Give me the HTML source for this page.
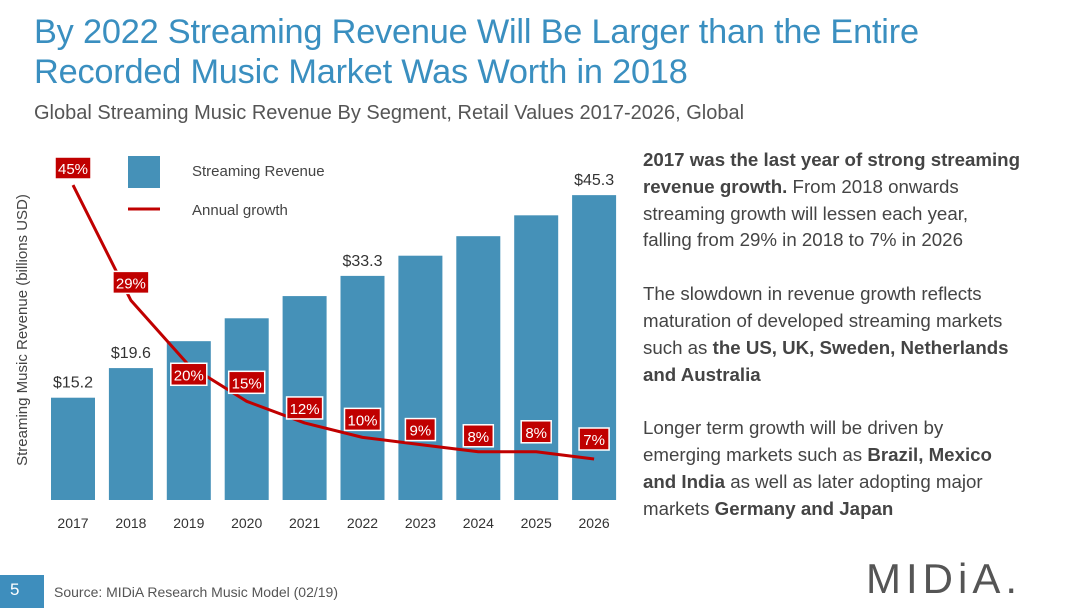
<!DOCTYPE html>
<html><head><meta charset="utf-8"><style>
body{margin:0;width:1080px;height:608px;background:#fff;font-family:"Liberation Sans",sans-serif;overflow:hidden;position:relative}
.t{position:absolute;left:34px;top:12px;font-size:34.3px;line-height:40px;color:#3a8fc0;letter-spacing:-0.2px;white-space:nowrap}
.s{position:absolute;left:34px;top:102px;font-size:20px;color:#555;white-space:nowrap}
.r{position:absolute;left:643px;top:147px;font-size:18.7px;line-height:26.8px;color:#444;white-space:nowrap}
.r p{margin:0 0 27px 0}
.foot{position:absolute;left:0;top:575px;width:44px;height:33px;background:#3e8ebd;color:#fff;font-size:17px;line-height:30px;text-indent:10px}
.src{position:absolute;left:54px;top:584px;font-size:14px;color:#555}
.logo{position:absolute;left:866px;top:555px;font-size:42px;color:#555;letter-spacing:5px}
</style></head><body>
<div class="t">By 2022 Streaming Revenue Will Be Larger than the Entire<br>Recorded Music Market Was Worth in 2018</div>
<div class="s">Global Streaming Music Revenue By Segment, Retail Values 2017-2026, Global</div>
<svg id="c" width="640" height="545" style="position:absolute;left:0;top:0"></svg>
<div class="r">
<p><b>2017 was the last year of strong streaming<br>revenue growth.</b> From 2018 onwards<br>streaming growth will lessen each year,<br>falling from 29% in 2018 to 7% in 2026</p>
<p>The slowdown in revenue growth reflects<br>maturation of developed streaming markets<br>such as <b>the US, UK, Sweden, Netherlands<br>and Australia</b></p>
<p>Longer term growth will be driven by<br>emerging markets such as <b>Brazil, Mexico<br>and India</b> as well as later adopting major<br>markets <b>Germany and Japan</b></p>
</div>
<div class="foot">5</div>
<div class="src">Source: MIDiA Research Music Model (02/19)</div>
<div class="logo">MIDiA.</div>
<script>
const years=["2017","2018","2019","2020","2021","2022","2023","2024","2025","2026"];
const revenue=[15.2,19.6,23.6,27.0,30.3,33.3,36.3,39.2,42.3,45.3];
const growth=[45,29,20,15,12,10,9,8,8,7];
const revLabels=["$15.2","$19.6","","","","$33.3","","","","$45.3"];
const NS="http://www.w3.org/2000/svg",svg=document.getElementById('c');
const x=i=>73+i*57.9, base=500, yR=v=>base-v*6.73, yG=g=>459-(g-7)*7.21;
function mk(t,a,txt){const e=document.createElementNS(NS,t);for(const k in a)e.setAttribute(k,a[k]);if(txt!=null)e.textContent=txt;svg.appendChild(e);return e;}
revenue.forEach((v,i)=>{
 const b=mk('rect',{x:x(i)-22,y:yR(v),width:44,height:base-yR(v),fill:'#4591b8'});
 
 
 if(revLabels[i]){const l=mk('text',{x:x(i),y:yR(v)-10,'text-anchor':'middle','font-size':16,fill:'#333'},revLabels[i]);
 
 }
 const t=mk('text',{x:x(i),y:528,'text-anchor':'middle','font-size':14,fill:'#333'},years[i]);
 
 
});
let d='';growth.forEach((g,i)=>{d+=(i?'L':'M')+x(i)+','+yG(g);});
const ln=mk('path',{d:d,fill:'none',stroke:'#c00000','stroke-width':3,'stroke-linejoin':'round'});


const labOff=[-17,-18,9,-19,-15,-18,-15,-16,-20,-20];
growth.forEach((g,i)=>{
 const cx=x(i),cy=yG(g)+labOff[i];
 const w=String(g).length>1?36:30;
 const r=mk('rect',{x:cx-w/2,y:cy-11,width:w,height:22,fill:'#c00000',stroke:'#fff','stroke-width':1.5});
 
 
 const t=mk('text',{x:cx,y:cy+6,'text-anchor':'middle','font-size':15,fill:'#fff'},g+'%');
 
 
});
const lg=mk('rect',{x:128,y:156,width:32,height:32,fill:'#4591b8'});


const lt=mk('text',{x:192,y:176,'font-size':15,fill:'#444'},'Streaming Revenue');


const ll=mk('line',{x1:128,y1:209,x2:160,y2:209,stroke:'#c00000','stroke-width':3});


const lt2=mk('text',{x:192,y:215,'font-size':15,fill:'#444'},'Annual growth');


const ya=mk('text',{transform:'translate(27,330) rotate(-90)','text-anchor':'middle','font-size':15,fill:'#444'},'Streaming Music Revenue (billions USD)');


</script>
</body></html>
